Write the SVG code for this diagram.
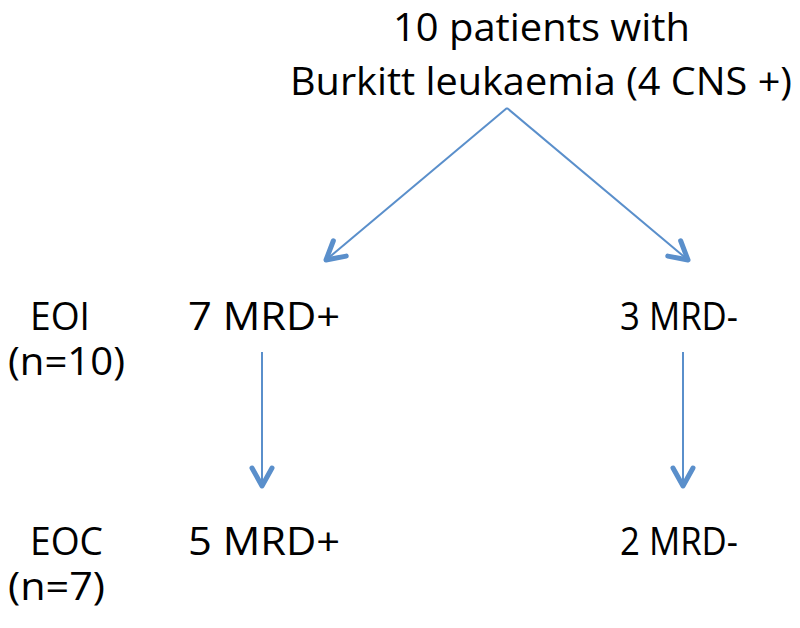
<svg xmlns="http://www.w3.org/2000/svg" width="800" height="628" viewBox="0 0 800 628">
<style>
text{font-family:"Open Sans","Liberation Sans",sans-serif;font-size:38px;fill:#000}
.c{stroke:#5a8fcb;stroke-width:2;fill:none}
</style>
<defs>
<marker id="ah" markerUnits="userSpaceOnUse" markerWidth="30" markerHeight="30" viewBox="-24 -15 30 30" refX="0" refY="0" orient="auto">
<path d="M-18,-10 L0,0 L-18,10" fill="none" stroke="#5a8fcb" stroke-width="5" stroke-linecap="round" stroke-linejoin="round"/>
</marker>
</defs>
<rect width="800" height="628" fill="#fff"/>
<g id="connectors">
<line class="c" x1="507" y1="108" x2="326" y2="260" marker-end="url(#ah)"/>
<line class="c" x1="507" y1="108" x2="688" y2="260" marker-end="url(#ah)"/>
<line class="c" x1="262" y1="352" x2="262" y2="486" marker-end="url(#ah)"/>
<line class="c" x1="683" y1="352" x2="683" y2="486" marker-end="url(#ah)"/>
</g>
<g id="root">
<text x="393" y="41" textLength="297" lengthAdjust="spacingAndGlyphs">10 patients with</text>
<text x="290" y="95" textLength="502" lengthAdjust="spacingAndGlyphs">Burkitt leukaemia (4 CNS +)</text>
</g>
<g id="eoi-label">
<text x="30" y="330" textLength="60" lengthAdjust="spacingAndGlyphs">EOI</text>
<text x="8" y="375" textLength="117" lengthAdjust="spacingAndGlyphs">(n=10)</text>
</g>
<g id="eoi-pos"><text x="188" y="330" textLength="152" lengthAdjust="spacingAndGlyphs">7 MRD+</text></g>
<g id="eoi-neg"><text x="620" y="330" textLength="118" lengthAdjust="spacingAndGlyphs">3 MRD-</text></g>
<g id="eoc-label">
<text x="30" y="555" textLength="73" lengthAdjust="spacingAndGlyphs">EOC</text>
<text x="8" y="600" textLength="97" lengthAdjust="spacingAndGlyphs">(n=7)</text>
</g>
<g id="eoc-pos"><text x="188" y="555" textLength="152" lengthAdjust="spacingAndGlyphs">5 MRD+</text></g>
<g id="eoc-neg"><text x="620" y="555" textLength="118" lengthAdjust="spacingAndGlyphs">2 MRD-</text></g>
</svg>
